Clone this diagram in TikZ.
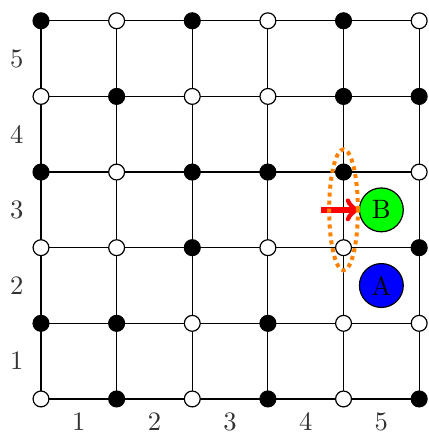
\documentclass[tikz,border=0pt]{standalone}
\usetikzlibrary{shapes.geometric}
\begin{document}
\begin{tikzpicture}[x=1cm,y=1cm,
  gridline/.style={line width=0.45pt,black},
  bdot/.style={circle,draw=black,fill=black,inner sep=0pt,minimum size=0.21cm,line width=0.45pt},
  wdot/.style={circle,draw=black,fill=white,inner sep=0pt,minimum size=0.21cm,line width=0.45pt},
  lbl/.style={inner sep=0pt,font=\normalsize,text=black!80},
  agent/.style={circle,draw=black,line width=0.45pt,inner sep=0pt,minimum size=0.58cm},
  ring/.style={ellipse,draw=orange,line width=1.5pt,dash pattern=on 1.5pt off 1.5pt,minimum width=0.38cm,minimum height=1.6cm,inner sep=0pt},
  move/.style={red,line width=2pt,->}]
\useasboundingbox (-0.542,-0.45) rectangle (5.119,5.275);
% grid coordinates
\foreach \i in {0,...,5}{
  \foreach \j in {0,...,5}{
    \coordinate (g-\i-\j) at (\i,\j);
  }
}
% grid lines
\foreach \k in {0,...,5}{
  \draw[gridline] (g-\k-0) -- (g-\k-5);
  \draw[gridline] (g-0-\k) -- (g-5-\k);
}
% dots
\foreach \j/\list in {5/{1,0,1,0,1,0},4/{0,1,0,0,1,1},3/{1,0,1,1,1,0},2/{0,0,1,0,0,1},1/{1,1,0,1,0,0},0/{0,1,0,1,0,1}}{
  \foreach \c [count=\i from 0] in \list {
    \ifnum\c=1
      \node[bdot] (p-\i-\j) at (g-\i-\j) {};
    \else
      \node[wdot] (p-\i-\j) at (g-\i-\j) {};
    \fi
  }
}
% labels
\foreach \n in {1,...,5}{
  \node[lbl] (cx\n) at (\n-0.5,-0.3) {\n};
  \node[lbl] (ry\n) at (-0.32,\n-0.5) {\n};
}
% agents
\node[agent,fill=blue] (A) at (4.5,1.5) {A};
\node[agent,fill=green] (B) at (4.5,2.5) {B};
% move arrow
\coordinate (astart) at (3.7,2.5);
\draw[move] (astart) -- (B.west);
% highlight
\node[ring] (ell) at (4,2.5) {};
\end{tikzpicture}
\end{document}
